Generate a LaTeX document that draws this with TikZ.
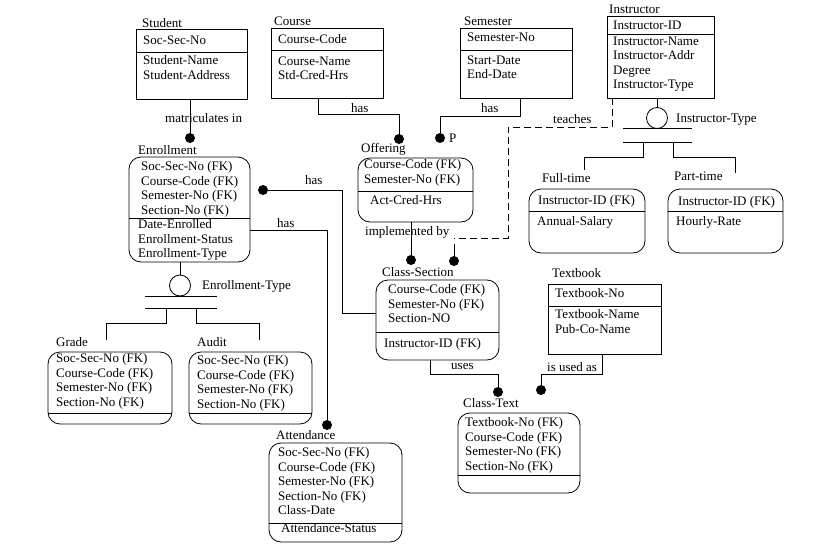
\documentclass[tikz,border=0pt]{standalone}
\usepackage{fontspec}
\setmainfont{Liberation Serif}
\usetikzlibrary{calc}
\begin{document}
\begin{tikzpicture}[x=1pt,y=-1pt,
  every node/.style={font=\fontsize{13}{14.5}\selectfont, inner sep=0pt},
  ln/.style={line width=0.8pt},
  ent/.style={draw, line width=0.8pt, anchor=north west, outer sep=0pt},
  rent/.style={ent, rounded corners=12pt},
  txt/.style={anchor=north west, align=left},
  lbl/.style={anchor=base west},
  dot/.style={circle, fill, minimum size=10pt},
  disc/.style={circle, draw, line width=0.8pt, minimum size=21pt},
  dsh/.style={line width=0.8pt, dash pattern=on 7pt off 4pt}]
\fill[white] (0,0) rectangle (833,549);
\useasboundingbox (0,0) rectangle (833,549);

% ---------- Student
\node[ent, minimum width=111pt, minimum height=70pt] (student) at (136,29) {};
\draw[ln] (student.west |- 0,52) -- (student.east |- 0,52);
\node[lbl] (studentL) at (142,27) {Student};
\node[txt] (studentK) at (143,35.5) {Soc-Sec-No};
\node[txt] (studentA) at (143,55.5) {Student-Name\\Student-Address};

% ---------- Course
\node[ent, minimum width=112pt, minimum height=70pt] (course) at (271,28) {};
\draw[ln] (course.west |- 0,50) -- (course.east |- 0,50);
\node[lbl] (courseL) at (274,25) {Course};
\node[txt] (courseK) at (278,34.5) {Course-Code};
\node[txt] (courseA) at (278,56.5) {Course-Name\\Std-Cred-Hrs};

% ---------- Semester
\node[ent, minimum width=112pt, minimum height=70pt] (semester) at (460,28) {};
\draw[ln] (semester.west |- 0,50) -- (semester.east |- 0,50);
\node[lbl] (semesterL) at (464,25) {Semester};
\node[txt] (semesterK) at (467,32.5) {Semester-No};
\node[txt] (semesterA) at (467,55.5) {Start-Date\\End-Date};

% ---------- Instructor
\node[ent, minimum width=107pt, minimum height=82pt] (instructor) at (607,16) {};
\draw[ln] (instructor.west |- 0,34) -- (instructor.east |- 0,34);
\node[lbl] (instructorL) at (609,13) {Instructor};
\node[txt] (instructorK) at (613,20.5) {Instructor-ID};
\node[txt] (instructorA) at (613,36.5) {Instructor-Name\\Instructor-Addr\\Degree\\Instructor-Type};

% ---------- Textbook
\node[ent, minimum width=113pt, minimum height=70pt] (textbook) at (548,284) {};
\draw[ln] (textbook.west |- 0,306) -- (textbook.east |- 0,306);
\node[lbl] (textbookL) at (552,277) {Textbook};
\node[txt] (textbookK) at (555,288.5) {Textbook-No};
\node[txt] (textbookA) at (555,309.5) {Textbook-Name\\Pub-Co-Name};

% ---------- Enrollment
\node[rent, minimum width=121pt, minimum height=105pt] (enrollment) at (129,157) {};
\draw[ln] (enrollment.west |- 0,218) -- (enrollment.east |- 0,218);
\node[lbl] (enrollmentL) at (138,154) {Enrollment};
\node[txt] (enrollmentK) at (141,161.5) {Soc-Sec-No (FK)\\Course-Code (FK)\\Semester-No (FK)\\Section-No (FK)};
\node[txt] (enrollmentA) at (138,219.5) {Date-Enrolled\\Enrollment-Status\\Enrollment-Type};

% ---------- Offering
\node[rent, minimum width=115pt, minimum height=64pt] (offering) at (358,158) {};
\draw[ln] (offering.west |- 0,191) -- (offering.east |- 0,191);
\node[lbl] (offeringL) at (361,152) {Offering};
\node[txt] (offeringK) at (364,159.5) {Course-Code (FK)\\Semester-No (FK)};
\node[txt] (offeringA) at (370,195.5) {Act-Cred-Hrs};

% ---------- Full-time
\node[rent, minimum width=116pt, minimum height=64pt] (fulltime) at (529,189) {};
\draw[ln] (fulltime.west |- 0,211) -- (fulltime.east |- 0,211);
\node[lbl] (fulltimeL) at (542,182) {Full-time};
\node[txt] (fulltimeK) at (538,195.5) {Instructor-ID (FK)};
\node[txt] (fulltimeA) at (537,216.5) {Annual-Salary};

% ---------- Part-time
\node[rent, minimum width=115pt, minimum height=64pt] (parttime) at (668,189) {};
\draw[ln] (parttime.west |- 0,211) -- (parttime.east |- 0,211);
\node[lbl] (parttimeL) at (674,180) {Part-time};
\node[txt] (parttimeK) at (678,196.5) {Instructor-ID (FK)};
\node[txt] (parttimeA) at (676,216.5) {Hourly-Rate};

% ---------- Class-Section
\node[rent, minimum width=123pt, minimum height=80pt] (classsection) at (376,280) {};
\draw[ln] (classsection.west |- 0,332) -- (classsection.east |- 0,332);
\node[lbl] (classsectionL) at (382,276) {Class-Section};
\node[txt] (classsectionK) at (388,284.5) {Course-Code (FK)\\Semester-No (FK)\\Section-NO};
\node[txt] (classsectionA) at (384,338.5) {Instructor-ID (FK)};

% ---------- Grade
\node[rent, minimum width=124pt, minimum height=72pt] (grade) at (48,352) {};
\draw[ln] (grade.west |- 0,413) -- (grade.east |- 0,413);
\node[lbl] (gradeL) at (56,346) {Grade};
\node[txt] (gradeK) at (56,353.5) {Soc-Sec-No (FK)\\Course-Code (FK)\\Semester-No (FK)\\Section-No (FK)};

% ---------- Audit
\node[rent, minimum width=123pt, minimum height=72pt] (audit) at (189,352) {};
\draw[ln] (audit.west |- 0,413) -- (audit.east |- 0,413);
\node[lbl] (auditL) at (197,346) {Audit};
\node[txt] (auditK) at (197,355.5) {Soc-Sec-No (FK)\\Course-Code (FK)\\Semester-No (FK)\\Section-No (FK)};

% ---------- Class-Text
\node[rent, minimum width=122pt, minimum height=80pt] (classtext) at (458,413) {};
\draw[ln] (classtext.west |- 0,475) -- (classtext.east |- 0,475);
\node[lbl] (classtextL) at (463,407) {Class-Text};
\node[txt] (classtextK) at (465,417.5) {Textbook-No (FK)\\Course-Code (FK)\\Semester-No (FK)\\Section-No (FK)};

% ---------- Attendance
\node[rent, minimum width=133pt, minimum height=99pt] (attendance) at (269,443) {};
\draw[ln] (attendance.west |- 0,523) -- (attendance.east |- 0,523);
\node[lbl] (attendanceL) at (276,439) {Attendance};
\node[txt] (attendanceK) at (278,447.5) {Soc-Sec-No (FK)\\Course-Code (FK)\\Semester-No (FK)\\Section-No (FK)\\Class-Date};
\node[txt] (attendanceA) at (281,523) {Attendance-Status};

% ---------- dots
\node[dot] (m1) at (190,138) {};
\node[dot] (c1) at (399,139) {};
\node[dot] (s1) at (440,138) {};
\node[dot] (t1) at (454,261) {};
\node[dot] (i1) at (411,260) {};
\node[dot] (e1) at (263,190) {};
\node[dot] (a1) at (327,425) {};
\node[dot] (u1) at (498,392) {};
\node[dot] (b1) at (541,390) {};

% ---------- connectors
\draw[ln] (student.south -| m1) -- (m1);
\draw[ln] ([xshift=47pt]course.south west) -- ++(0,16) -| (c1);
\draw[ln] ([xshift=60pt]semester.south west) -- ++(0,18) -| (s1);
\coordinate (tk) at (508,238);
\draw[dsh] ([xshift=5pt]instructor.south west) -- ++(0,29) -| (tk) -- (tk -| t1);
\draw[ln] ($(t1)+(0,-17)$) -- (t1);
\draw[ln] (offering.south -| i1) -- (i1);
\draw[ln] (e1) -- ++(79,0) |- (classsection.west |- 0,313);
\draw[ln] (enrollment.east |- 0,230) -| (a1);
\draw[ln] ([xshift=54pt]classsection.south west) -- ++(0,14) -| (u1);
\draw[ln] ([xshift=54pt]textbook.south west) -- ++(0,20) -| (b1);

% ---------- Enrollment-Type discriminator
\node[disc] (etype) at (180,285.5) {};
\draw[ln] (enrollment.south -| etype) -- (etype);
\draw[ln] (145,296) -- (217,296);
\draw[ln] (145,308) -- (217,308);
\draw[ln] (166,308) |- (106,323) -- (106,340);
\draw[ln] (196,308) |- (259,323) -- (259,340);

% ---------- Instructor-Type discriminator
\node[disc] (itype) at (657,118) {};
\draw[ln] (instructor.south -| itype) -- (itype);
\draw[ln] (623,128.5) -- (692,128.5);
\draw[ln] (623,142) -- (692,142);
\draw[ln] (643,142) |- (584,157) -- (584,170);
\draw[ln] (673,142) |- (735,157) -- (735,173);

% ---------- connector labels
\node[lbl] (lm) at (165,122) {matriculates in};
\node[lbl] (lh1) at (351,112) {has};
\node[lbl] (lh2) at (481,112) {has};
\node[lbl] (lt) at (553,123) {teaches};
\node[lbl] (lp) at (449,142) {P};
\node[lbl] (lh3) at (305,184) {has};
\node[lbl] (lh4) at (277,227) {has};
\node[lbl] (li) at (365,235) {implemented by};
\node[lbl] (lu) at (451,369) {uses};
\node[lbl] (lb) at (547,371) {is used as};
\node[lbl] (etl) at (202,289) {Enrollment-Type};
\node[lbl] (itl) at (676,122) {Instructor-Type};
\end{tikzpicture}
\end{document}
